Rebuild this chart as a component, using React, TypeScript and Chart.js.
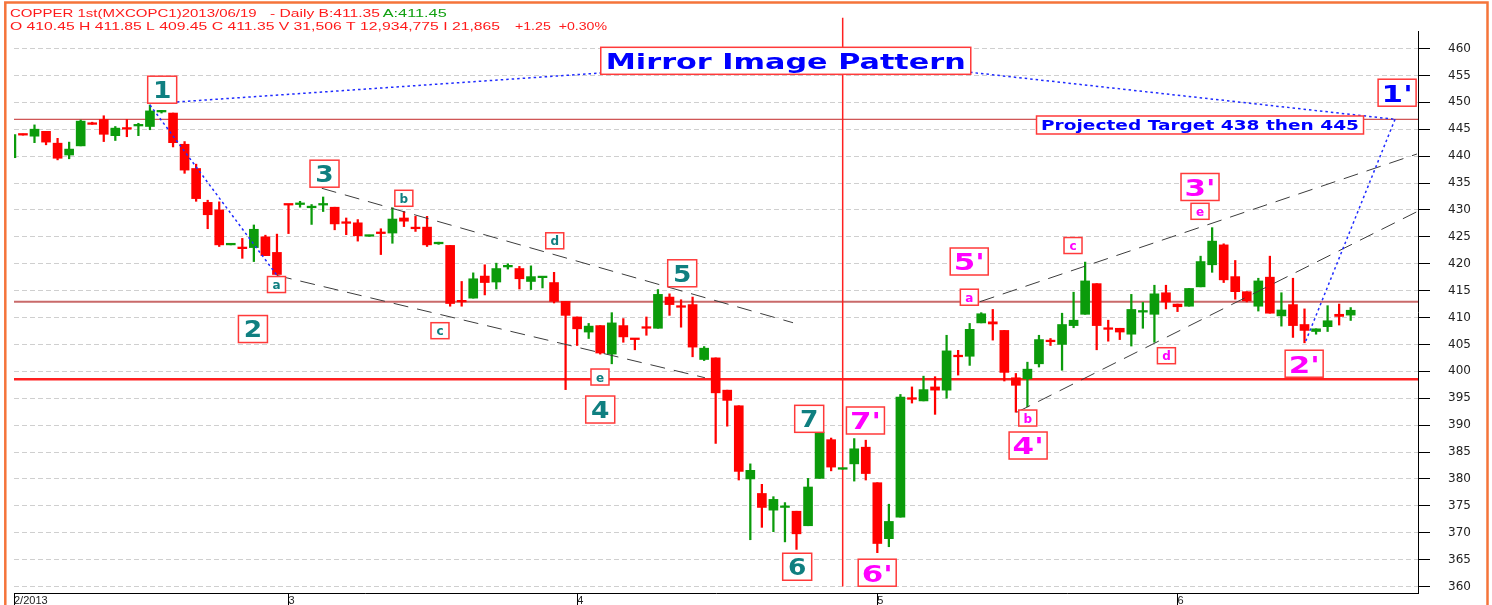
import React, { useEffect, useRef } from 'react';
import { Chart, registerables } from 'chart.js';

Chart.register(...registerables);

// ---------- DATA ----------
const opens = [
  439.7, 444.05, 443.7, 444.6, 442.4, 440.2, 441.9, 446.0, 446.8, 443.8,
  445.3, 445.6, 445.5, 448.2, 448.0, 442.2, 437.7, 431.4, 430.0, 423.5,
  423.0, 423.0, 425.0, 422.1, 431.0, 431.0, 430.4, 430.9, 430.5, 427.7,
  427.6, 425.1, 425.8, 425.7, 428.5, 426.7, 426.8, 423.7, 423.4, 413.0,
  413.6, 417.7, 416.6, 419.4, 419.1, 416.7, 417.4, 416.5, 413.0, 410.1,
  407.3, 408.5, 403.2, 408.5, 406.0, 408.2, 408.0, 413.8, 412.1, 412.4,
  402.2, 402.5, 396.5, 393.6, 380.0, 377.3, 374.2, 374.7, 374.0, 371.3,
  380.1, 387.3, 381.8, 382.8, 385.9, 379.3, 368.9, 372.9, 395.0, 394.5,
  397.1, 396.5, 402.9, 402.8, 409.0, 409.2, 407.6, 398.8, 398.6, 401.4,
  405.7, 405.0, 408.5, 410.6, 416.3, 408.0, 408.0, 406.9, 411.0, 410.6,
  414.6, 412.5, 412.1, 415.7, 419.8, 423.5, 417.6, 414.8, 412.1, 417.5,
  410.3, 412.4, 408.7, 407.4, 408.3, 410.6, 410.45,
];
const highs = [
  444.0, 444.1, 445.8, 444.6, 443.3, 442.6, 446.7, 446.3, 447.5, 445.5,
  446.8, 446.1, 449.5, 448.5, 448.0, 442.7, 438.5, 431.8, 431.5, 423.7,
  424.7, 427.2, 425.3, 425.5, 431.0, 431.6, 431.0, 432.4, 430.5, 428.5,
  428.2, 425.3, 426.5, 430.4, 429.7, 428.8, 428.8, 424.0, 423.4, 416.7,
  418.3, 419.8, 420.1, 420.0, 419.5, 419.6, 417.5, 418.4, 413.0, 410.1,
  408.9, 408.5, 410.9, 409.8, 406.0, 410.1, 415.2, 414.4, 413.3, 413.8,
  404.6, 402.5, 396.5, 393.6, 382.8, 379.0, 376.7, 375.6, 374.0, 380.1,
  388.7, 387.6, 381.9, 387.5, 387.2, 379.3, 375.3, 395.7, 397.1, 399.1,
  399.0, 406.7, 403.9, 408.9, 410.9, 411.5, 407.6, 399.6, 401.7, 406.7,
  406.1, 410.8, 414.7, 420.3, 416.3, 409.5, 408.0, 414.3, 412.8, 416.0,
  416.0, 412.5, 415.4, 421.4, 426.7, 423.7, 420.6, 414.8, 417.3, 421.4,
  414.6, 417.3, 411.6, 407.9, 412.2, 412.5, 411.85,
];
const lows = [
  439.7, 443.9, 442.5, 442.1, 439.3, 439.5, 441.9, 445.9, 442.7, 442.9,
  443.6, 443.8, 444.9, 448.0, 441.7, 436.8, 431.6, 426.5, 423.2, 423.5,
  421.0, 420.4, 421.5, 417.9, 425.6, 430.5, 427.3, 429.7, 426.3, 425.4,
  424.2, 425.1, 421.7, 423.8, 426.9, 426.0, 423.2, 423.6, 412.1, 412.1,
  413.6, 414.2, 415.3, 419.0, 415.3, 415.2, 415.5, 412.7, 396.6, 404.8,
  406.1, 403.2, 401.4, 405.4, 404.0, 406.7, 408.0, 410.4, 408.2, 402.7,
  402.0, 386.6, 389.8, 379.8, 368.7, 371.0, 370.2, 368.3, 366.9, 371.3,
  380.1, 381.5, 381.8, 379.6, 379.8, 366.3, 367.4, 372.9, 394.1, 394.5,
  392.0, 395.0, 399.3, 401.1, 409.0, 405.8, 398.2, 392.4, 393.4, 400.8,
  404.8, 400.2, 408.1, 410.6, 404.0, 405.6, 405.9, 404.7, 408.0, 405.4,
  411.6, 411.1, 412.1, 415.7, 418.4, 416.5, 413.4, 412.9, 411.2, 410.8,
  408.4, 406.3, 405.3, 406.9, 407.4, 408.6, 409.45,
];
const closes = [
  444.0, 443.9, 445.0, 442.6, 439.6, 441.3, 446.5, 445.9, 444.05, 445.2,
  445.0, 445.8, 448.4, 448.3, 442.5, 437.4, 432.1, 429.1, 423.5, 423.6,
  422.8, 426.4, 421.5, 418.0, 430.9, 431.1, 430.5, 431.0, 427.4, 427.5,
  425.2, 425.2, 425.6, 428.3, 427.9, 426.5, 423.5, 423.8, 412.6, 412.9,
  417.2, 416.5, 419.1, 419.6, 417.2, 417.6, 417.5, 413.0, 410.4, 407.9,
  408.4, 403.4, 409.0, 406.4, 405.9, 408.0, 414.3, 412.4, 411.9, 404.5,
  404.3, 396.0, 394.6, 381.4, 381.6, 374.7, 376.2, 374.8, 369.8, 378.5,
  388.7, 382.2, 381.9, 385.6, 381.0, 368.0, 372.1, 395.2, 394.8, 396.6,
  396.5, 403.8, 402.7, 407.8, 410.7, 408.8, 399.8, 397.4, 400.4, 405.9,
  405.5, 408.7, 409.5, 416.8, 408.5, 407.8, 407.3, 411.5, 411.3, 414.4,
  412.9, 412.0, 415.4, 420.4, 424.2, 417.0, 414.8, 413.1, 416.8, 410.8,
  411.4, 408.5, 407.6, 407.9, 409.4, 410.2, 411.35,
];

const monthTickIdx = [0, 24, 49, 75, 101];
const monthLabels = ['2/2013', '3', '4', '5', '6'];
const priceTicks = [360, 365, 370, 375, 380, 385, 390, 395, 400, 405, 410, 415, 420, 425, 430, 435, 440, 445, 450, 455, 460];

// horizontal levels (price) and the vertical divider (candle index)
const targetLevel = 446.84;
const midLevel = 412.94;
const supportLevel = 398.51;
const dividerIdx = 72;
const dividerFrom = 360;
const dividerTo = 465.7;

// annotation texts and anchors (candle index, price)
const labelTexts = ['1', '2', '3', '4', '5', '6', '7', 'a', 'b', 'c', 'd', 'e',
  "1'", "2'", "3'", "4'", "5'", "6'", "7'", 'a', 'b', 'c', 'd', 'e'];
const labelIdx = [13.06, 20.92, 27.12, 51.0, 58.1, 68.06, 69.1, 22.96, 33.99, 37.12, 47.06, 50.98,
  120.02, 111.97, 102.95, 88.06, 82.96, 74.99, 73.97, 82.97, 88.03, 91.95, 100.04, 102.95];
const labelPrice = [452.34, 407.86, 436.73, 392.9, 418.22, 363.68, 391.17, 416.13, 432.16, 407.55, 424.26, 398.94,
  451.78, 401.41, 434.26, 386.21, 420.41, 362.57, 390.86, 413.77, 391.32, 423.38, 402.9, 429.74];

const titleText = 'Mirror Image Pattern';
const titleAnchor = [67.07, 457.71];
const targetText = 'Projected Target 438 then 445';
const targetAnchor = [102.95, 445.78];

// dashed channel lines: [idx1, price1, idx2, price2]
const channelLines = [
  [26.88, 434.02, 67.7, 409.03],
  [23.0, 417.81, 60.07, 398.81],
  [83.89, 412.94, 121.74, 440.39],
  [87.07, 392.38, 121.74, 429.67],
];
// dotted mirror lines
const mirrorLines = [
  [14.34, 450.06, 51.07, 455.45],
  [83.03, 455.58, 119.84, 446.84],
  [119.84, 446.84, 112.04, 405.26],
  [12.0, 449.5, 22.98, 417.9],
];

const header1 = ['COPPER 1st(MXCOPC1)2013/06/19', '- Daily B:411.35', 'A:411.45'];
const header2 = ['O 410.45 H 411.85 L 409.45 C 411.35 V 31,506 T 12,934,775 I 21,865', '+1.25  +0.30%'];

// ---------- STYLE ----------
const X_MIN = 0.225;
const X_MAX = 121.83;
const Y_MIN = 358.8;
const Y_MAX = 463.25;
const UP = '#0b9b0b';
const DOWN = '#ff0000';
const TEAL = '#0f7f80';
const MAGENTA = '#ff00ff';
const BLUE = '#0000ff';
const BOX_RED = '#ff3a3a';

function drawStretched(ctx: CanvasRenderingContext2D, text: string, x: number, y: number, font: string,
  color: string, align: CanvasTextAlign, width?: number, sx?: number) {
  ctx.save();
  ctx.font = font;
  const m = ctx.measureText(text).width;
  const s = width ? width / m : (sx || 1);
  ctx.translate(x, y);
  ctx.scale(s, 1);
  ctx.fillStyle = color;
  ctx.textAlign = align;
  ctx.textBaseline = 'alphabetic';
  ctx.fillText(text, 0, 0);
  ctx.restore();
}

function drawBox(ctx: CanvasRenderingContext2D, cx: number, cy: number, w: number, h: number) {
  ctx.save();
  ctx.fillStyle = '#ffffff';
  ctx.fillRect(cx - w / 2, cy - h / 2, w, h);
  ctx.strokeStyle = BOX_RED;
  ctx.lineWidth = 1.5;
  ctx.strokeRect(cx - w / 2, cy - h / 2, w, h);
  ctx.restore();
}

const overlayPlugin = {
  id: 'overlay',
  beforeDatasetsDraw(chart: any) {
    const { ctx, chartArea, scales } = chart;
    const xs = scales.x, ys = scales.y;
    const hline = (p: number, color: string, lw: number) => {
      const y = ys.getPixelForValue(p);
      ctx.save();
      ctx.strokeStyle = color;
      ctx.lineWidth = lw;
      ctx.beginPath();
      ctx.moveTo(chartArea.left, y);
      ctx.lineTo(chartArea.right, y);
      ctx.stroke();
      ctx.restore();
    };
    hline(targetLevel, '#c42a2a', 1);
    hline(midLevel, '#c96a6a', 2);
    hline(supportLevel, '#ff2020', 2.5);
    const vx = xs.getPixelForValue(dividerIdx);
    ctx.save();
    ctx.strokeStyle = '#ff2020';
    ctx.lineWidth = 1.5;
    ctx.beginPath();
    ctx.moveTo(vx, ys.getPixelForValue(dividerTo));
    ctx.lineTo(vx, ys.getPixelForValue(dividerFrom));
    ctx.stroke();
    ctx.restore();
  },
  afterDatasetsDraw(chart: any) {
    const { ctx, scales } = chart;
    const xs = scales.x, ys = scales.y;
    const seg = (l: number[], color: string, lw: number, dash: number[]) => {
      ctx.save();
      ctx.strokeStyle = color;
      ctx.lineWidth = lw;
      ctx.setLineDash(dash);
      ctx.beginPath();
      ctx.moveTo(xs.getPixelForValue(l[0]), ys.getPixelForValue(l[1]));
      ctx.lineTo(xs.getPixelForValue(l[2]), ys.getPixelForValue(l[3]));
      ctx.stroke();
      ctx.restore();
    };
    channelLines.forEach((l) => seg(l, '#3c3c3c', 1, [15, 9]));
    mirrorLines.forEach((l) => seg(l, '#1f2bff', 1.5, [2.5, 3]));

    // wave labels
    labelTexts.forEach((t, i) => {
      const cx = xs.getPixelForValue(labelIdx[i]);
      const cy = ys.getPixelForValue(labelPrice[i]);
      const primed = i >= 12;
      const small = t.length === 1 && /[a-e]/.test(t);
      const color = i === 12 ? BLUE : primed ? MAGENTA : TEAL;
      if (small) {
        drawBox(ctx, cx, cy, 18, 16);
        drawStretched(ctx, t, cx, cy - 8 + 12.5, 'bold 12px "DejaVu Sans"', color, 'center', undefined, 1);
      } else if (t.length === 2) {
        drawBox(ctx, cx, cy, 38, 27);
        drawStretched(ctx, t, cx, cy - 13.5 + 22.3, 'bold 23px "DejaVu Sans"', color, 'center', 31);
      } else {
        drawBox(ctx, cx, cy, 29, 27);
        drawStretched(ctx, t, cx, cy - 13.5 + 21.8, 'bold 23px "DejaVu Sans"', color, 'center', undefined, 1.15);
      }
    });

    // title
    const tx = xs.getPixelForValue(titleAnchor[0]);
    const ty = ys.getPixelForValue(titleAnchor[1]);
    drawBox(ctx, tx, ty, 370, 27);
    drawStretched(ctx, titleText, tx, ty - 13.5 + 21.7, 'bold 21.5px "DejaVu Sans"', BLUE, 'center', 360);

    const px = xs.getPixelForValue(targetAnchor[0]);
    const py = ys.getPixelForValue(targetAnchor[1]);
    drawBox(ctx, px, py, 327, 18);
    drawStretched(ctx, targetText, px, py - 9 + 14, 'bold 14px "DejaVu Sans"', BLUE, 'center', 318);
  },
  afterDraw(chart: any) {
    const { ctx } = chart;
    const f = '11px "Liberation Sans"';
    drawStretched(ctx, header1[0], 10, 17, f, '#ff1a1a', 'left', 246.7);
    drawStretched(ctx, header1[1], 270, 17, f, '#ff1a1a', 'left', 110);
    drawStretched(ctx, header1[2], 382.7, 17, f, '#11a011', 'left', 64);
    drawStretched(ctx, header2[0], 10, 30, f, '#ff1a1a', 'left', 490);
    drawStretched(ctx, header2[1], 515, 30, f, '#ff1a1a', 'left', 92);
    ctx.save();
    ctx.strokeStyle = '#f5743a';
    ctx.lineWidth = 2.5;
    ctx.strokeRect(5.3, 2.5, 1482.2, 606);
    ctx.restore();
  },
};

export default function App() {
  const ref = useRef<HTMLCanvasElement | null>(null);
  useEffect(() => {
    document.body.style.margin = '0';
    const canvas = ref.current;
    if (!canvas) return;
    const idx = opens.map((_, i) => i);
    const isUp = idx.map((i) => closes[i] >= opens[i]);
    const colors = isUp.map((u) => (u ? UP : DOWN));
    const chart = new Chart(canvas, {
      type: 'bar',
      data: {
        datasets: [
          {
            label: 'body',
            data: idx.map((i) => ({ x: i, y: [opens[i], closes[i]] })) as any,
            backgroundColor: colors,
            borderWidth: 0,
            barThickness: 9,
            minBarLength: 1.6,
            grouped: false,
            clip: 0,
            order: 0,
          } as any,
          {
            label: 'wick',
            data: idx.map((i) => ({ x: i, y: [lows[i], highs[i]] })) as any,
            backgroundColor: colors,
            borderWidth: 0,
            barThickness: 1.6,
            minBarLength: 1,
            grouped: false,
            clip: 0,
            order: 1,
          } as any,
        ],
      },
      options: {
        animation: false,
        responsive: false,
        maintainAspectRatio: false,
        devicePixelRatio: 1,
        layout: { padding: { left: 14, top: 31, right: 0, bottom: 0 } },
        plugins: { legend: { display: false }, tooltip: { enabled: false } },
        scales: {
          x: {
            type: 'linear',
            min: X_MIN,
            max: X_MAX,
            offset: false,
            grid: { offset: false, drawOnChartArea: false, drawTicks: true, tickLength: 12, color: '#000', tickColor: '#000' },
            border: { display: true, color: '#000', width: 1 },
            ticks: {
              autoSkip: false,
              maxRotation: 0,
              minRotation: 0,
              align: 'start',
              padding: -11,
              color: '#222',
              font: { family: '"Liberation Sans"', size: 11 },
              callback: (_v: any, i: number) => monthLabels[i],
            },
            afterBuildTicks: (s: any) => {
              s.ticks = monthTickIdx.map((v) => ({ value: Math.max(v, X_MIN) }));
            },
            afterFit: (s: any) => {
              s.height = 12;
              s.paddingLeft = 0;
              s.paddingRight = 0;
            },
          } as any,
          y: {
            type: 'linear',
            position: 'right',
            min: Y_MIN,
            max: Y_MAX,
            grid: { offset: false, color: '#cfcfcf', tickColor: '#000', tickLength: 12, lineWidth: 1 },
            border: { display: true, color: '#000', width: 1, dash: [5, 3] },
            ticks: {
              padding: 18,
              color: '#222',
              font: { family: '"DejaVu Sans"', size: 12 },
              callback: (v: any) => String(v),
            },
            afterBuildTicks: (s: any) => {
              s.ticks = priceTicks.map((v) => ({ value: v }));
            },
            afterFit: (s: any) => {
              s.width = 74;
              s.paddingTop = 0;
              s.paddingBottom = 0;
            },
          } as any,
        },
      },
      plugins: [overlayPlugin],
    });
    return () => chart.destroy();
  }, []);
  return (
    <div style={{ position: 'relative', width: 1492, height: 605 }}>
      <canvas ref={ref} width={1492} height={605} />
    </div>
  );
}
